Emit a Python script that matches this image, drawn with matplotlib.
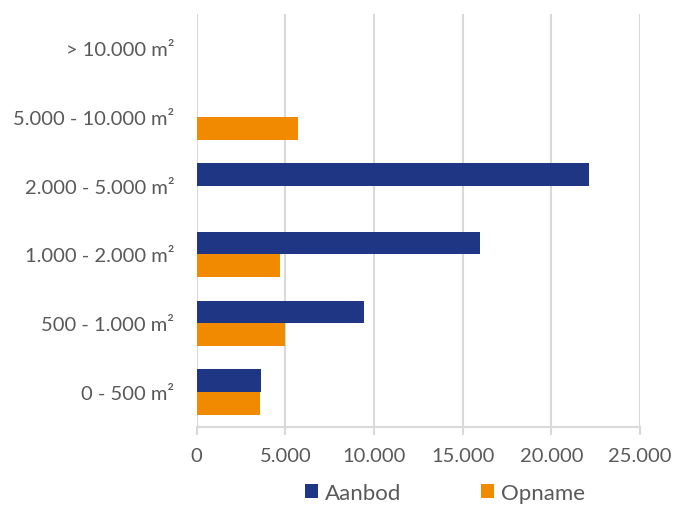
import numpy as np
import matplotlib.pyplot as plt
from matplotlib.ticker import FuncFormatter

categories = ["0 - 500 m²", "500 - 1.000 m²", "1.000 - 2.000 m²",
              "2.000 - 5.000 m²", "5.000 - 10.000 m²", "> 10.000 m²"]
aanbod = [3610, 9430, 16000, 22140, 0, 0]
opname = [3590, 4980, 4720, 0, 5730, 0]
xticks = [0, 5000, 10000, 15000, 20000, 25000]

plt.rcParams["font.family"] = ["Lato", "DejaVu Sans"]
text_color = "#595959"
grid_color = "#d9d9d9"

fig = plt.figure(figsize=(6.74, 5.06), dpi=100)
ax = fig.add_axes([0.2918, 0.155, 0.6578, 0.8163])

y = np.arange(len(categories))
h = 0.33
ax.barh(y + h / 2, aanbod, height=h, color="#1f3684", label="Aanbod")
ax.barh(y - h / 2, opname, height=h, color="#f28a00", label="Opname")

ax.set_xlim(0, 25000)
ax.set_ylim(-0.5, len(categories) - 0.5)
ax.set_xticks(xticks)
ax.xaxis.set_major_formatter(FuncFormatter(lambda v, p: f"{int(v):,}".replace(",", ".")))
ax.set_yticks(y)
ax.set_yticklabels(categories)

ax.grid(axis="x", color=grid_color, linewidth=1.5)
ax.set_axisbelow(True)
for side in ["top", "right", "left"]:
    ax.spines[side].set_visible(False)
ax.spines["bottom"].set_color(grid_color)
ax.spines["bottom"].set_linewidth(1.5)
ax.tick_params(axis="x", colors=grid_color, length=6, width=1.5,
               labelcolor=text_color, labelsize=14.5, pad=9)
ax.tick_params(axis="y", length=0, labelcolor=text_color, labelsize=14.5, pad=16)

ax.legend(loc="center", bbox_to_anchor=(0.56, -0.16), ncol=2, frameon=False,
          fontsize=16, labelcolor=text_color, handlelength=0.6, handleheight=0.6,
          columnspacing=3.6, handletextpad=0.3)

plt.savefig("out.png", dpi=100)
